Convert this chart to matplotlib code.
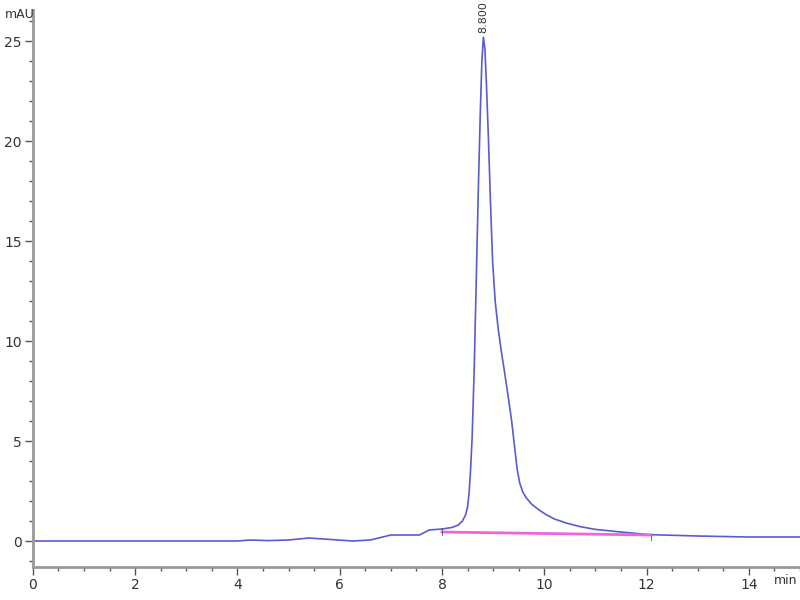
import matplotlib
matplotlib.use('Agg')
import matplotlib.pyplot as plt
import numpy as np

# chromatogram trace (min, mAU)
t = [0.0, 1.0, 2.0, 3.0, 4.0, 4.25, 4.6, 5.0, 5.4, 5.8, 6.25, 6.6, 7.0, 7.3, 7.56,
     7.75, 8.0, 8.2, 8.32, 8.4, 8.46, 8.5, 8.53, 8.56, 8.59, 8.63, 8.67, 8.71,
     8.75, 8.78, 8.81, 8.84, 8.87, 8.91, 8.95, 8.99, 9.04, 9.1, 9.16, 9.22, 9.29,
     9.36, 9.42, 9.47, 9.52, 9.58, 9.65, 9.75, 9.9, 10.05, 10.2, 10.43, 10.7,
     11.0, 11.5, 12.05, 13.0, 14.0, 15.0]
sig = [0.0, 0.0, 0.0, 0.0, 0.0, 0.05, 0.02, 0.05, 0.15, 0.08, 0.0, 0.05, 0.3,
       0.3, 0.3, 0.55, 0.6, 0.68, 0.8, 1.0, 1.3, 1.7, 2.4, 3.6, 5.2, 8.6, 13.0,
       17.5, 21.5, 24.0, 25.2, 24.6, 22.8, 20.0, 16.8, 14.0, 12.0, 10.6, 9.5,
       8.5, 7.3, 6.05, 4.7, 3.6, 2.9, 2.45, 2.15, 1.85, 1.55, 1.3, 1.1, 0.9, 0.72,
       0.58, 0.45, 0.32, 0.25, 0.2, 0.2]

# integration baseline
base_t = [8.0, 12.08]
base_y = [0.45, 0.3]

peak_t = 8.81
peak_y = 25.2
peak_label = '8.800'

fig = plt.figure(figsize=(8, 6), dpi=100)
ax = fig.add_axes([0.041, 0.055, 0.959, 0.928])

ax.plot(t, sig, color='#5a5ad2', lw=1.2)
ax.plot(base_t, base_y, color='#ee66dd', lw=2)
ax.plot([base_t[0]] * 2, [base_y[0] - 0.15, base_y[0] + 0.2], color='#555555', lw=0.6)
ax.plot([base_t[1]] * 2, [base_y[1] - 0.25, base_y[1]], color='#555555', lw=0.6)

ax.text(peak_t, peak_y + 0.2, peak_label, rotation=90, ha='center', va='bottom',
        fontsize=8, color='#333333')

ax.set_xlim(0, 15)
ax.set_ylim(-1.3, 26.55)
ax.set_xticks(np.arange(0, 15, 2))
ax.set_xticks(np.arange(0, 15.1, 0.5), minor=True)
ax.set_yticks(np.arange(0, 26, 5))
ax.set_yticks(np.arange(-1, 26.5, 1), minor=True)

for s in ['top', 'right']:
    ax.spines[s].set_visible(False)
for s in ['left', 'bottom']:
    ax.spines[s].set_color('#999999')
    ax.spines[s].set_linewidth(2)

ax.tick_params(which='major', length=6, width=1, color='#555555', labelsize=10,
               labelcolor='#333333', pad=2)
ax.tick_params(which='minor', length=3, width=1, color='#555555')

fig.text(20 / 800, 1 - 15 / 600, 'mAU', ha='center', va='center', fontsize=9,
         color='#333333')
fig.text(786 / 800, 1 - 580 / 600, 'min', ha='center', va='center', fontsize=9,
         color='#333333')

fig.savefig('out.png', dpi=100)
